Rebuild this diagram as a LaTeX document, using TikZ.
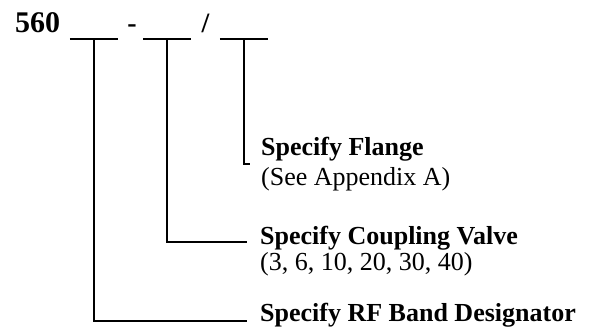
\documentclass[tikz,border=0pt]{standalone}
\usepackage{fontspec}
\setmainfont{Liberation Serif}
\usetikzlibrary{positioning}

\begin{document}
\begin{tikzpicture}[x=1pt, y=-1pt,
blank/.style={minimum width=48pt, minimum height=0pt, inner sep=0pt},
wire/.style={black, line width=1.5pt},
title/.style={anchor=base west, inner sep=0pt, font=\fontsize{26}{31}\selectfont\bfseries},
note/.style={anchor=base west, inner sep=0pt, font=\fontsize{26}{31}\selectfont}
]
\useasboundingbox (0,0) rectangle (590,331);
%Part number
\node[anchor=base west, inner sep=0pt, font=\fontsize{30}{36}\selectfont\bfseries] (num) at (15,33) {560};
\node[blank] (b1) at (94,39) {};
\node[anchor=base, inner sep=0pt, font=\fontsize{28}{34}\selectfont\bfseries] (dash) at (132,33) {-};
\node[blank, minimum width=47pt] (b2) at (167,39) {};
\node[anchor=base, inner sep=0pt, font=\fontsize{28}{34}\selectfont\bfseries] (slash) at (205.5,33) {/};
\node[blank] (b3) at (244,39) {};

%Labels
\node[title] (flange) at (261,156) {Specify Flange};
\node[note] (flangenote) at (261,186) {(See Appendix A)};
\node[title] (valve) at (260,245) {Specify Coupling Valve};
\node[note] (valvenote) at (260,271) {(3, 6, 10, 20, 30, 40)};
\node[title] (band) at (260,322) {Specify RF Band Designator};

\coordinate (e3) at (250,164);
\coordinate (e2) at (247,242);
\coordinate (e1) at (247,321);

%Lines
\foreach \b in {b1,b2,b3}
  \draw[wire] (\b.west) -- (\b.east);
\draw[wire] (b3.south) |- (e3);
\draw[wire] (b2.south) |- (e2);
\draw[wire] (b1.south) |- (e1);

\end{tikzpicture}
\end{document}
